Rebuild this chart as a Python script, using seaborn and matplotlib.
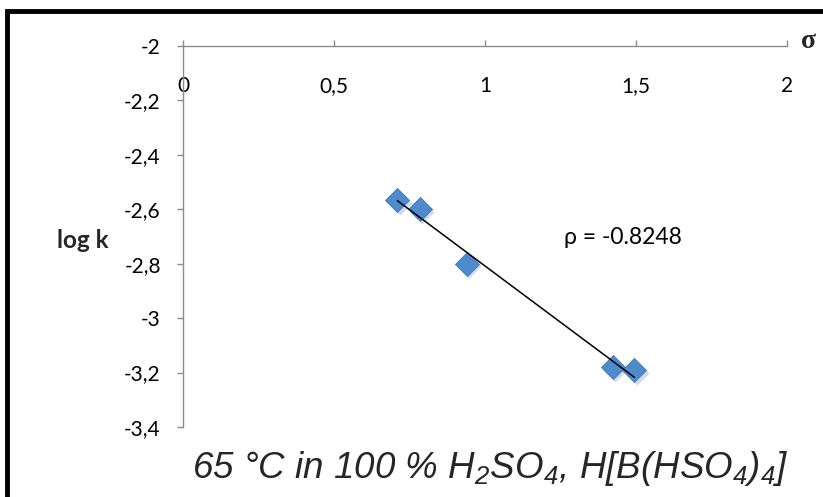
import numpy as np
import pandas as pd
import matplotlib
matplotlib.use("Agg")
import matplotlib.pyplot as plt
import matplotlib.transforms as mtransforms
from matplotlib.patches import Rectangle
import seaborn as sns

# ---- data ----
sigma = [0.71, 0.785, 0.94, 1.425, 1.495]
log_k = [-2.565, -2.60, -2.80, -3.18, -3.19]
x_ticks = [0, 0.5, 1, 1.5, 2]
x_tick_labels = ["0", "0,5", "1", "1,5", "2"]
y_ticks = [-2, -2.2, -2.4, -2.6, -2.8, -3, -3.2, -3.4]
y_tick_labels = ["-2", "-2,2", "-2,4", "-2,6", "-2,8", "-3", "-3,2", "-3,4"]
rho_text = "ρ = -0.8248"
title = r"65 °C in 100 % H$_2$SO$_4$, H[B(HSO$_4$)$_4$]"

df = pd.DataFrame({"sigma": sigma, "logk": log_k})

sns.set_theme(style="white")
plt.rcParams["font.family"] = ["Lato", "DejaVu Sans"]
plt.rcParams["mathtext.fontset"] = "custom"
plt.rcParams["mathtext.rm"] = "Liberation Sans:italic"
plt.rcParams["mathtext.it"] = "Liberation Sans:italic"

fig = plt.figure(figsize=(8.23, 4.97), dpi=100)
ax = fig.add_axes([183 / 823, 1 - 427 / 497, (787 - 183) / 823, (427 - 46) / 497])

axis_grey = "#8c8c8c"

# shadow
shadow = mtransforms.offset_copy(ax.transData, fig=fig, x=1.5, y=-2.0, units="points")
ax.scatter(sigma, log_k, marker="D", s=150, color="#b9c3cf", alpha=0.6,
           linewidths=0, transform=shadow, zorder=2)
sns.scatterplot(data=df, x="sigma", y="logk", marker="D", s=150,
                color="#4f8bcc", edgecolor="#3f78b8", linewidth=0.6, ax=ax, zorder=3)
sns.regplot(data=df, x="sigma", y="logk", scatter=False, ci=None, truncate=True,
            line_kws={"color": "black", "lw": 1.1, "zorder": 4}, ax=ax)

ax.set_xlim(0, 2)
ax.set_ylim(-3.4, -2)
ax.set_xlabel("")
ax.set_ylabel("")

for s in ["right", "bottom"]:
    ax.spines[s].set_visible(False)
for s in ["left", "top"]:
    ax.spines[s].set_color(axis_grey)
    ax.spines[s].set_linewidth(1.0)

ax.set_xticks(x_ticks)
ax.set_xticklabels(x_tick_labels)
ax.set_yticks(y_ticks)
ax.set_yticklabels(y_tick_labels)
ax.xaxis.tick_top()
ax.tick_params(axis="x", which="major", direction="out", length=4, width=1,
               color=axis_grey, labelsize=15, labelcolor="black", pad=-40,
               top=True, bottom=False, labeltop=True, labelbottom=False)
ax.tick_params(axis="y", which="major", direction="out", length=4, width=1,
               color=axis_grey, labelsize=15, labelcolor="black", pad=12,
               left=True, labelleft=True)

ax.text(1.26, -2.705, rho_text, fontsize=16.5, va="center", ha="left", color="black")

fig.text(808 / 823, 1 - 42 / 497, "σ", fontsize=20, fontweight="bold",
         family=["Liberation Serif", "DejaVu Serif"], ha="center", va="center")
fig.text(83 / 823, 1 - 241 / 497, "log k", fontsize=17.5, fontweight="bold",
         ha="center", va="center")
fig.text(490 / 823, 1 - 468 / 497, title, fontsize=26.5, style="italic",
         family=["Liberation Sans", "DejaVu Sans"], ha="center", va="center")

# outer border
fig.patches.append(Rectangle((6.5 / 823, -0.1), 1.2, 1 - 11 / 497 + 0.1,
                             transform=fig.transFigure, fill=False,
                             edgecolor="black", linewidth=3.5, zorder=10))

fig.savefig("out.png", dpi=100)
